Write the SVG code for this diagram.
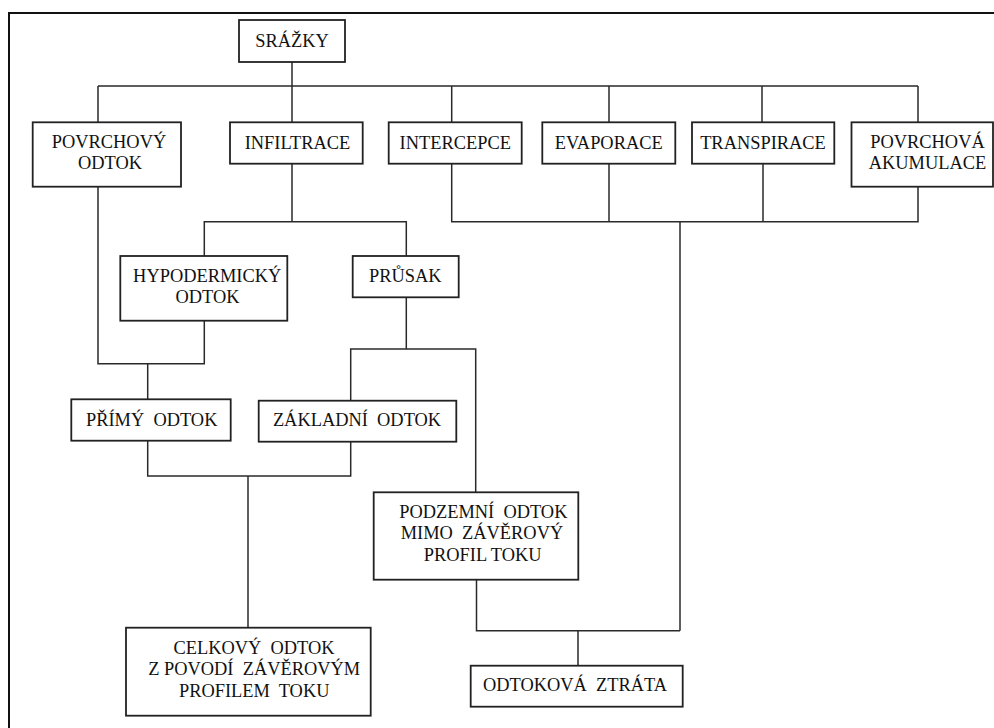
<svg xmlns="http://www.w3.org/2000/svg" width="994" height="728" viewBox="0 0 994 728">
<style>
.box{fill:#fff;stroke:#222;stroke-width:1.8}
.ln{fill:none;stroke:#2a2a2a;stroke-width:1.5}
.t{font-family:"Liberation Serif","Times New Roman",serif;font-size:18.4px;fill:#111;text-anchor:middle;white-space:pre}
</style>
<rect x="0" y="0" width="994" height="728" fill="#fff"/>
<rect x="9" y="13" width="1000" height="800" fill="none" stroke="#111" stroke-width="2"/>
<g id="connectors" class="ln">
<path d="M292,62V86M98,86H918M98,86V122M292,86V122M451.7,86V122M609,86V122M762,86V122M918,86V122"/>
<path d="M451.7,163.7V221.7H918V186.7M609,163.7V221.7M763,163.7V221.7M680,221.7V630.7"/>
<path d="M292,163.7V221.7M204.3,256V221.7H406.3V256"/>
<path d="M98,186.7V363.7H204.3V320.7M147.7,363.7V399.3"/>
<path d="M406.3,297.3V349M350.7,400.7V349H475.7V492.3"/>
<path d="M147.7,440.7V476H350.7V441.7M248,476V627.7"/>
<path d="M476.5,579.7V630.7H680M578,630.7V665.7"/>
</g>
<g id="srazky"><rect class="box" x="239" y="20" width="106" height="42"/>
<text class="t" x="292" y="47.3">SRÁŽKY</text></g>
<g id="povrchovy-odtok"><rect class="box" x="32.7" y="122.3" width="148.3" height="64.4"/>
<text class="t"><tspan x="109" y="148.4">POVRCHOVÝ</tspan><tspan x="110" y="169.3">ODTOK</tspan></text></g>
<g id="infiltrace"><rect class="box" x="230" y="122.3" width="132.7" height="41.4"/>
<text class="t" x="297.5" y="149.3">INFILTRACE</text></g>
<g id="intercepce"><rect class="box" x="388.7" y="122.3" width="133" height="41.4"/>
<text class="t" x="455.3" y="149.3">INTERCEPCE</text></g>
<g id="evaporace"><rect class="box" x="542.3" y="122.3" width="133" height="41.4"/>
<text class="t" x="608.7" y="149.3">EVAPORACE</text></g>
<g id="transpirace"><rect class="box" x="692" y="122.3" width="142.3" height="41.4"/>
<text class="t" x="763" y="149.3">TRANSPIRACE</text></g>
<g id="povrchova-akumulace"><rect class="box" x="851.5" y="122.3" width="141.5" height="64.4"/>
<text class="t"><tspan x="927.5" y="148.4">POVRCHOVÁ</tspan><tspan x="927.5" y="169.3">AKUMULACE</tspan></text></g>
<g id="hypodermicky-odtok"><rect class="box" x="120.3" y="256" width="167" height="64.7"/>
<text class="t"><tspan x="207.2" y="282.4">HYPODERMICKÝ</tspan><tspan x="207.5" y="303.3">ODTOK</tspan></text></g>
<g id="prusak"><rect class="box" x="352.7" y="256" width="106" height="41.3"/>
<text class="t" x="405.3" y="282.3">PRŮSAK</text></g>
<g id="primy-odtok"><rect class="box" x="71.3" y="399.3" width="159.4" height="41.4"/>
<text class="t" x="151.7" y="425.7" xml:space="preserve">PŘÍMÝ  ODTOK</text></g>
<g id="zakladni-odtok"><rect class="box" x="258.7" y="400.7" width="197.6" height="41"/>
<text class="t" x="357" y="426" xml:space="preserve">ZÁKLADNÍ  ODTOK</text></g>
<g id="podzemni-odtok"><rect class="box" x="373.7" y="492.3" width="204.6" height="87.4"/>
<text class="t" xml:space="preserve"><tspan x="483.3" y="518.2">PODZEMNÍ  ODTOK</tspan><tspan x="482" y="539.2">MIMO  ZÁVĚROVÝ</tspan><tspan x="482.7" y="560.7">PROFIL TOKU</tspan></text></g>
<g id="celkovy-odtok"><rect class="box" x="126" y="627.7" width="244.7" height="88"/>
<text class="t" xml:space="preserve"><tspan x="254" y="654">CELKOVÝ  ODTOK</tspan><tspan x="254.2" y="675.1">Z POVODÍ  ZÁVĚROVÝM</tspan><tspan x="254.2" y="696.7">PROFILEM  TOKU</tspan></text></g>
<g id="odtokova-ztrata"><rect class="box" x="470.7" y="665.7" width="212" height="41"/>
<text class="t" x="575" y="691" xml:space="preserve">ODTOKOVÁ  ZTRÁTA</text></g>
</svg>
